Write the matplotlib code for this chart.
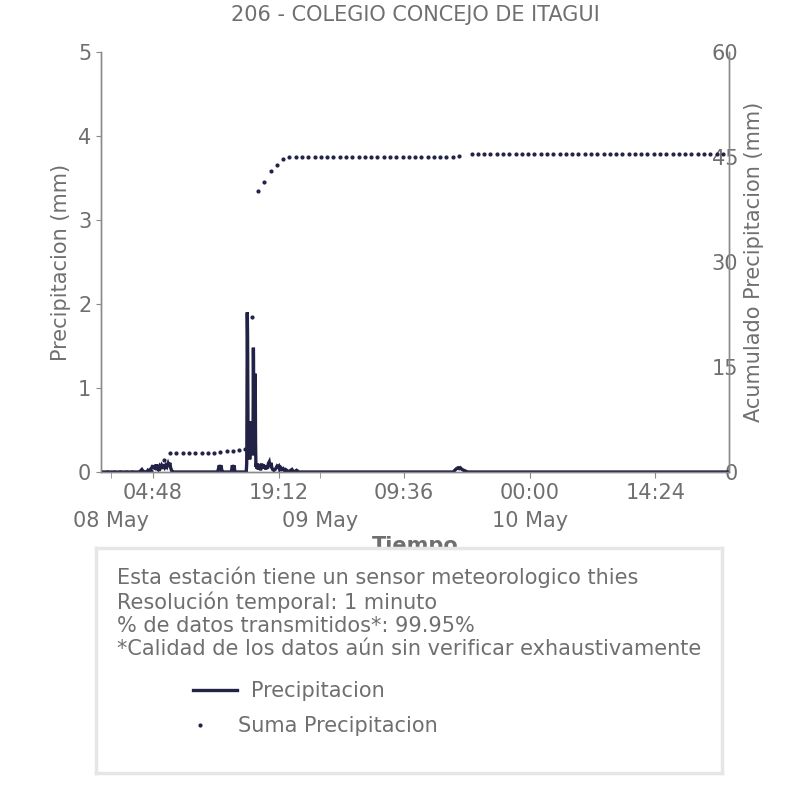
import matplotlib
matplotlib.use('Agg')
import matplotlib.pyplot as plt
import matplotlib.dates as mdates
import pandas as pd
from matplotlib.lines import Line2D

titulo = '206 - COLEGIO CONCEJO DE ITAGUI'
t_ini = '2023-05-07 22:51'
t_fin = '2023-05-10 22:50'

# precipitacion (mm) donde llueve, cero en el resto
lluvia_t = ['2023-05-08 03:20', '2023-05-08 03:26', '2023-05-08 03:32', '2023-05-08 03:40', '2023-05-08 03:46',
            '2023-05-08 04:08', '2023-05-08 04:14', '2023-05-08 04:22', '2023-05-08 04:30',
            '2023-05-08 04:40', '2023-05-08 04:48', '2023-05-08 04:52', '2023-05-08 04:58', '2023-05-08 05:04',
            '2023-05-08 05:10', '2023-05-08 05:14', '2023-05-08 05:20', '2023-05-08 05:26', '2023-05-08 05:34',
            '2023-05-08 05:40', '2023-05-08 05:48', '2023-05-08 05:54', '2023-05-08 06:00', '2023-05-08 06:08',
            '2023-05-08 06:16', '2023-05-08 06:24', '2023-05-08 06:32', '2023-05-08 06:38', '2023-05-08 06:44',
            '2023-05-08 06:50', '2023-05-08 06:56', '2023-05-08 07:02',
            '2023-05-08 12:12', '2023-05-08 12:18', '2023-05-08 12:24', '2023-05-08 12:30', '2023-05-08 12:36',
            '2023-05-08 12:42', '2023-05-08 12:48',
            '2023-05-08 13:48', '2023-05-08 13:54', '2023-05-08 14:00', '2023-05-08 14:06', '2023-05-08 14:12',
            '2023-05-08 15:30',
            '2023-05-08 16:40', '2023-05-08 16:44', '2023-05-08 16:48', '2023-05-08 16:52', '2023-05-08 16:56',
            '2023-05-08 17:00', '2023-05-08 17:04', '2023-05-08 17:08', '2023-05-08 17:12', '2023-05-08 17:16',
            '2023-05-08 17:20', '2023-05-08 17:26', '2023-05-08 17:32', '2023-05-08 17:38', '2023-05-08 17:44',
            '2023-05-08 17:50', '2023-05-08 17:56', '2023-05-08 18:02', '2023-05-08 18:08', '2023-05-08 18:14',
            '2023-05-08 18:20', '2023-05-08 18:26', '2023-05-08 18:32', '2023-05-08 18:40', '2023-05-08 18:48',
            '2023-05-08 18:56', '2023-05-08 19:02', '2023-05-08 19:08', '2023-05-08 19:14', '2023-05-08 19:20',
            '2023-05-08 19:28', '2023-05-08 19:36', '2023-05-08 19:44', '2023-05-08 19:52', '2023-05-08 20:00',
            '2023-05-08 20:08', '2023-05-08 20:16', '2023-05-08 20:36', '2023-05-08 20:44', '2023-05-08 20:52',
            '2023-05-08 21:00', '2023-05-08 21:16', '2023-05-08 21:24', '2023-05-08 21:32',
            '2023-05-09 15:14', '2023-05-09 15:24', '2023-05-09 15:36', '2023-05-09 15:46', '2023-05-09 15:54',
            '2023-05-09 16:02', '2023-05-09 16:14', '2023-05-09 16:26', '2023-05-09 16:40', '2023-05-09 16:50']
lluvia_v = [0, 0.02, 0.03, 0.01, 0,
            0, 0.02, 0.01, 0.03,
            0.05, 0.08, 0.04, 0.07, 0.03,
            0.09, 0.05, 0.06, 0.04, 0.07,
            0.05, 0.08, 0.06, 0.07, 0.05,
            0.08, 0.06, 0.10, 0.07, 0.11,
            0.05, 0.02, 0,
            0, 0.03, 0.08, 0.05, 0.08,
            0.02, 0,
            0, 0.08, 0.05, 0.08, 0,
            0,
            0.10, 0.04, 0.10, 0.03, 0.09,
            0.05, 0.08, 0.02, 0.06, 0.10,
            0.04, 0.09, 0.05, 0.08, 0.03,
            0.07, 0.04, 0.10, 0.12, 0.06,
            0.11, 0.05, 0.03, 0.02, 0.03,
            0.05, 0.07, 0.06, 0.07, 0.03,
            0.05, 0.03, 0.04, 0.02, 0.03,
            0.02, 0, 0.02, 0.03, 0.01,
            0, 0.02, 0.01, 0,
            0, 0.02, 0.04, 0.05, 0.04,
            0.05, 0.03, 0.02, 0.01, 0]

# aguacero del 08 May, un valor por minuto
tormenta_ini = '2023-05-08 15:33'
tormenta_v = [0.1, 0.3, 0.7, 1.3, 1.9, 1.75, 1.6, 1.2, 0.8, 0.5,
              0.55, 0.3, 0.5, 0.2, 0.45, 0.35, 0.6, 0.25, 0.5, 0.4,
              0.55, 0.15, 0.45, 0.3, 0.6, 0.35, 0.5, 0.2, 0.55, 0.4,
              0.45, 0.25, 0.6, 0.3, 0.5, 0.35, 0.55, 0.2, 0.45, 0.4,
              0.6, 0.3, 0.5, 0.25, 0.55,
              0.9, 1.48, 1.3, 0.7, 0.4,
              0.55, 0.3, 0.5, 0.2, 0.45, 0.35, 0.6,
              0.9, 1.17, 1.0, 0.6, 0.35, 0.2, 0.12, 0.06]

# suma acumulada (mm), 100 muestras
suma_v = [0, 0, 0, 0, 0, 0, 0, 0.05, 0.1, 0.4,
          1.7, 2.67, 2.67, 2.67, 2.67, 2.67, 2.67, 2.67, 2.67, 2.8,
          2.95, 3.0, 3.2, 3.3, 22.1, 40.1, 41.5, 42.95, 43.8, 44.65,
          45.0, 45.0, 45.0, 45.0, 45.0, 45.0, 45.0, 45.0, 45.0, 45.0,
          45.0, 45.0, 45.0, 45.0, 45.0, 45.0, 45.0, 45.0, 45.0, 45.0,
          45.0, 45.0, 45.0, 45.0, 45.0, 45.0, 45.0, 45.2, float('nan'), 45.5,
          45.5, 45.5, 45.5, 45.5, 45.5, 45.5, 45.5, 45.5, 45.5, 45.5,
          45.5, 45.5, 45.5, 45.5, 45.5, 45.5, 45.5, 45.5, 45.5, 45.5,
          45.5, 45.5, 45.5, 45.5, 45.5, 45.5, 45.5, 45.5, 45.5, 45.5,
          45.5, 45.5, 45.5, 45.5, 45.5, 45.5, 45.5, 45.5, 45.5, 45.5]

info = ('Esta estación tiene un sensor meteorologico thies\n'
        'Resolución temporal: 1 minuto\n'
        '% de datos transmitidos*: 99.95%\n'
        '*Calidad de los datos aún sin verificar exhaustivamente')

azul = '#222247'
gris = '#6f6f6f'

lluvia = pd.Series(lluvia_v, index=pd.to_datetime(lluvia_t))
tormenta = pd.Series(tormenta_v, index=pd.date_range(tormenta_ini, periods=len(tormenta_v), freq='min'))
bordes = pd.Series([0.0, 0.0], index=pd.to_datetime([t_ini, t_fin]))
precip = pd.concat([bordes, lluvia, tormenta]).sort_index()
suma_t = pd.date_range(t_ini, periods=len(suma_v), freq='2592s')

fig = plt.figure(figsize=(8.06, 8.06), dpi=100)
ax = fig.add_axes([101 / 806, 1 - 472 / 806, 628 / 806, 420 / 806])
ax2 = ax.twinx()
# la linea de precipitacion encima de los puntos
ax.set_zorder(ax2.get_zorder() + 1)
ax.patch.set_visible(False)

ax.plot(precip.index, precip.values, color=azul, lw=2.4, solid_joinstyle='miter')
ax2.plot(suma_t, suma_v, ls='none', marker='o', ms=2.0, color=azul)

ax.set_xlim(pd.Timestamp(t_ini), pd.Timestamp(t_fin))
ax.set_ylim(0, 5)
ax2.set_ylim(0, 60)
ax2.set_yticks([0, 15, 30, 45, 60])

mayores = pd.date_range('2023-05-08 04:48', '2023-05-10 22:00', freq='864min')
ax.set_xticks(mayores)
ax.xaxis.set_major_formatter(mdates.DateFormatter('%H:%M'))
ax.xaxis.set_minor_locator(mdates.DayLocator())
ax.xaxis.set_minor_formatter(mdates.DateFormatter('%d %b'))
ax.xaxis.remove_overlapping_locs = False

for a in (ax, ax2):
    for s in a.spines.values():
        s.set_color('#8a8a8a')
        s.set_linewidth(1)
    a.spines['top'].set_visible(False)

ax.tick_params(axis='x', which='major', length=4, color='#8a8a8a', labelcolor=gris, labelsize=15, pad=4)
ax.tick_params(axis='x', which='minor', length=4, color='#8a8a8a', labelcolor=gris, labelsize=15, pad=24)
ax.tick_params(axis='y', length=3.5, color='#8a8a8a', labelcolor=gris, labelsize=15)
ax2.tick_params(axis='y', length=0, labelcolor=gris, labelsize=15, pad=6.5)
for lbl in ax2.get_yticklabels():
    lbl.set_ha('right')

ax.set_ylabel('Precipitacion (mm)', color=gris, fontsize=15)
ax.yaxis.set_label_coords(-0.048, 0.5)
ax2.set_ylabel('Acumulado Precipitacion (mm)', color=gris, fontsize=15)
ax2.yaxis.set_label_coords(1.024, 0.5)
ax.set_xlabel('Tiempo', color=gris, fontsize=15, fontweight='bold', va='center')
ax.xaxis.set_label_coords(0.5, -0.176)
ax.set_title(titulo, color=gris, fontsize=15, pad=22)

caja = fig.add_axes([96 / 806, 1 - 773 / 806, 626 / 806, 225 / 806], zorder=5)
caja.set_xticks([])
caja.set_yticks([])
for s in caja.spines.values():
    s.set_color('#e6e6e6')
    s.set_linewidth(2.5)
caja.text(117 / 806, 1 - 567 / 806, info, transform=fig.transFigure, va='top', ha='left',
          color=gris, fontsize=15, linespacing=1.19)

h1 = Line2D([], [], color=azul, lw=2.4)
h2 = Line2D([], [], ls='none', marker='o', ms=2.0, color=azul)
leg1 = caja.legend([h1], ['Precipitacion'], loc='center left', bbox_to_anchor=(193 / 806, 1 - 691 / 806),
                   bbox_transform=fig.transFigure, frameon=False, borderpad=0, borderaxespad=0,
                   fontsize=15, labelcolor=gris, handlelength=2.1, handletextpad=0.7)
caja.add_artist(leg1)
caja.legend([h2], ['Suma Precipitacion'], loc='center left', bbox_to_anchor=(193 / 806, 1 - 726 / 806),
            bbox_transform=fig.transFigure, frameon=False, borderpad=0, borderaxespad=0,
            fontsize=15, labelcolor=gris, handlelength=0.7, handletextpad=1.45)

fig.savefig('out.png', dpi=100)
